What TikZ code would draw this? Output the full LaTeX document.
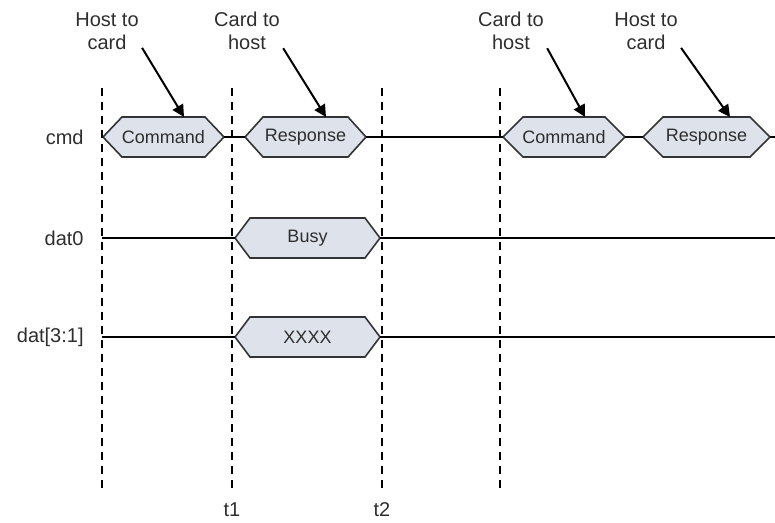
\documentclass[tikz,border=0pt]{standalone}
\usepackage{fontspec}
\setmainfont{Liberation Sans}
\usepackage{tikz}
\usetikzlibrary{arrows.meta,calc,positioning}
\definecolor{SigFill}{HTML}{DDE2EB}
\definecolor{SigEdge}{HTML}{333333}
\definecolor{InkGray}{HTML}{2E2E2E}

% one bus value: name, left tip, right tip, mid y, slant, text
\newcommand{\sigbox}[6]{%
  \coordinate (#1-w) at (#2,#4);
  \coordinate (#1-e) at (#3,#4);
  \coordinate (#1-n) at ($(#1-e)+(-40,-20)$);
  \draw[sigfill] (#1-w) -- ++(#5,-20) -- ($(#1-e)+(-#5,-20)$) -- (#1-e)
    -- ($(#1-e)+(-#5,20)$) -- ($(#1-w)+(#5,20)$) -- cycle;
  \node[sigtext] (#1) at ($(#1-w)!0.5!(#1-e)$) {#6};
}

\begin{document}
\begin{tikzpicture}[x=0.5pt, y=-0.5pt,
    every node/.style={text=InkGray},
    lbl/.style={font=\fontsize{10}{12}\selectfont, anchor=east, inner sep=0pt},
    note/.style={font=\fontsize{10}{11.5}\selectfont, align=center, inner sep=0pt},
    sigtext/.style={font=\fontsize{9}{11}\selectfont, inner sep=0pt},
    sigfill/.style={fill=SigFill, draw=SigEdge, line width=0.8pt, line join=miter},
    wire/.style={draw=black, line width=0.75pt},
    marker/.style={draw=black, line width=0.7pt, dash pattern=on 4pt off 3pt},
    callout/.style={draw=black, line width=1pt, -{Triangle[length=6pt,width=6pt]}}]
    \useasboundingbox (0,0) rectangle (775,523);

    % Time markers
    \foreach \x/\n in {102/a,232/b,382/c,500/d} {
        \coordinate (m\n-top) at (\x,88);
        \coordinate (m\n-bot) at (\x,490);
        \draw[marker] (m\n-top) -- (m\n-bot);
    }
    \node[note] (t1) at (232,510) {t1};
    \node[note] (t2) at (382,510) {t2};

    % Signal names
    \node[lbl] (cmd) at (84,137) {cmd};
    \node[lbl] (dat0) at (84,238) {dat0};
    \node[lbl] (dat31) at (84,337) {dat[3:1]};

    % Bus values
    \sigbox{cmdA}{103}{224}{137}{19}{Command}
    \sigbox{rspA}{245}{366}{137}{18}{Response}
    \sigbox{cmdB}{503}{625}{137}{20}{Command}
    \sigbox{rspB}{643}{770}{137}{20}{Response}
    \sigbox{busy}{235}{380}{238}{15}{Busy}
    \sigbox{xxxx}{235}{380}{337}{15}{XXXX}

    % Wires
    \coordinate (cmd-in) at (102,137);
    \coordinate (cmd-out) at (775,137);
    \coordinate (dat0-in) at (102,238);
    \coordinate (dat0-out) at (775,238);
    \coordinate (dat31-in) at (102,337);
    \coordinate (dat31-out) at (775,337);
    \draw[wire] (cmd-in) -- (cmdA-w);
    \draw[wire] (cmdA-e) -- (rspA-w);
    \draw[wire] (rspA-e) -- (cmdB-w);
    \draw[wire] (cmdB-e) -- (rspB-w);
    \draw[wire] (rspB-e) -- (cmd-out);
    \draw[wire] (dat0-in) -- (busy-w);
    \draw[wire] (busy-e) -- (dat0-out);
    \draw[wire] (dat31-in) -- (xxxx-w);
    \draw[wire] (xxxx-e) -- (dat31-out);

    % Direction notes
    \node[note] (hA) at (107,31) {Host to\\card};
    \node[note] (cA) at (247,31) {Card to\\host};
    \node[note] (cB) at (511,31) {Card to\\host};
    \node[note] (hB) at (646,31) {Host to\\card};
    \draw[callout] ($(hA.south east)+(3,-2)$) -- (cmdA-n);
    \draw[callout] ($(cA.south east)+(3,-2)$) -- (rspA-n);
    \draw[callout] ($(cB.south east)+(3,-2)$) -- (cmdB-n);
    \draw[callout] ($(hB.south east)+(3,-2)$) -- (rspB-n);
\end{tikzpicture}
\end{document}
